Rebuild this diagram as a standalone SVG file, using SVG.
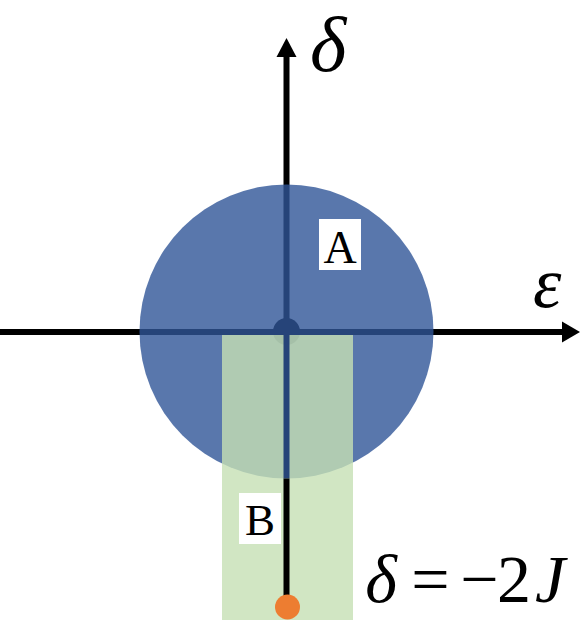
<svg xmlns="http://www.w3.org/2000/svg" width="581" height="620" viewBox="0 0 581 620">
<style>
.ax{stroke:#000;stroke-width:6;fill:none}
.lbl{font-family:"Liberation Serif","Times New Roman",serif;fill:#000}
.it{font-style:italic}
.box{fill:#fff}
.eq{font-size:68px;text-anchor:middle}
</style>
<rect width="581" height="620" fill="#fff"/>
<g id="connectors">
<line class="ax" x1="0" y1="332" x2="564" y2="332"/>
<polygon points="580,332 562,321.5 562,342.5" fill="#000"/>
<line class="ax" x1="286.5" y1="55" x2="286.5" y2="332"/>
<polygon points="286.5,38 276.5,57 296.5,57" fill="#000"/>
</g>
<g id="origin">
<circle cx="286.5" cy="331.5" r="13.5" fill="#000"/>
</g>
<g id="regionA">
<circle cx="286.5" cy="331.5" r="147" fill="#2F5597" fill-opacity="0.8"/>
</g>
<g id="regionB">
<rect x="222" y="335" width="131" height="285" fill="#C5E0B4" fill-opacity="0.8"/>
</g>
<g id="segment">
<line x1="286.5" y1="335" x2="286.5" y2="478.5" stroke="#264479" stroke-width="6"/>
<line class="ax" x1="286.5" y1="478.5" x2="286.5" y2="607"/>
</g>
<g id="point">
<circle cx="287.5" cy="607" r="12.5" fill="#ED7D31"/>
</g>
<g id="labelA">
<rect class="box" x="319" y="219" width="42" height="51"/>
<text class="lbl" x="340" y="263" font-size="46" text-anchor="middle">A</text>
</g>
<g id="labelB">
<rect class="box" x="239" y="493" width="42" height="51"/>
<text class="lbl" x="260" y="535" font-size="45" text-anchor="middle">B</text>
</g>
<g id="axis-labels">
<text class="lbl it" x="310" y="71" font-size="78">δ</text>
<text class="lbl it" x="533" y="307" font-size="72">ε</text>
</g>
<g id="equation">
<text class="lbl it eq" x="381" y="602">δ</text>
<text class="lbl eq" x="430.5" y="602">=</text>
<text class="lbl eq" x="479.5" y="602">−</text>
<text class="lbl eq" x="514" y="602">2</text>
<text class="lbl it eq" x="550" y="602">J</text>
</g>
</svg>
